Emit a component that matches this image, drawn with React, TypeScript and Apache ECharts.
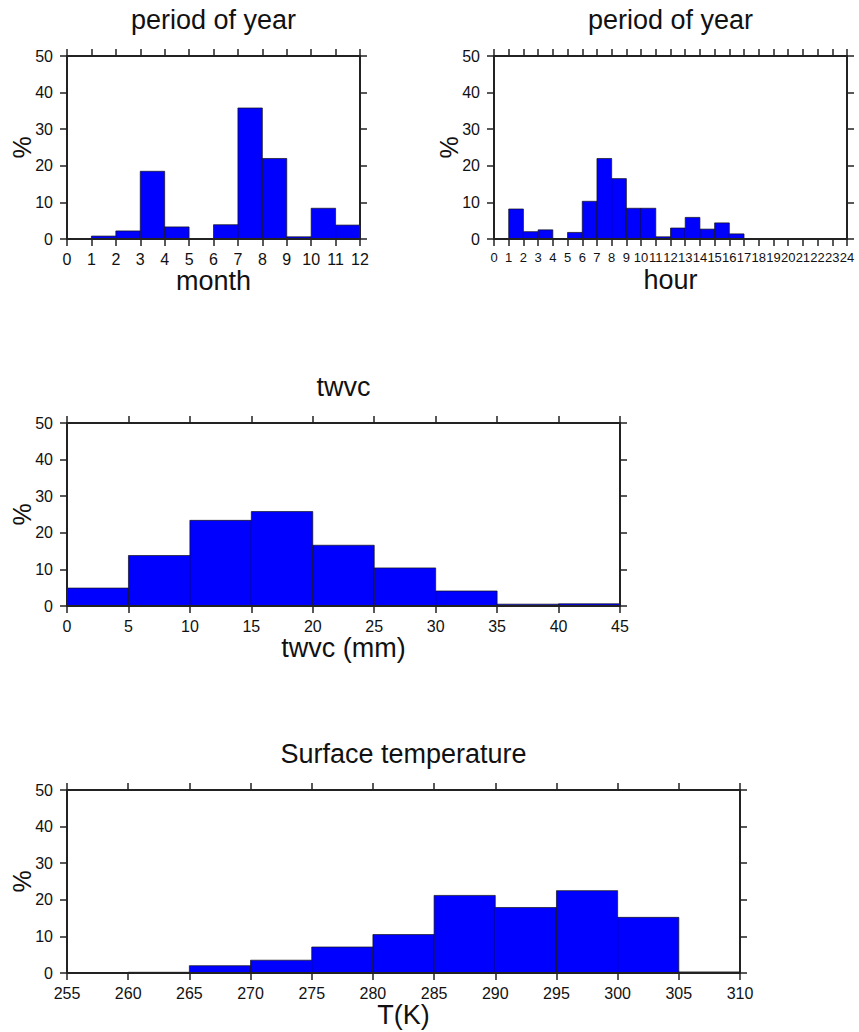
import React, { useEffect, useRef } from "react";
import * as echarts from "echarts";

// ---- data (percent per bin) ----
const monthBinStart = [0, 1, 2, 3, 4, 5, 6, 7, 8, 9, 10, 11];
const monthPct = [0, 0.8, 2.2, 18.5, 3.3, 0, 3.9, 35.8, 22.0, 0.6, 8.4, 3.8];

const hourBinStart = [0, 1, 2, 3, 4, 5, 6, 7, 8, 9, 10, 11, 12, 13, 14, 15, 16, 17, 18, 19, 20, 21, 22, 23];
const hourPct = [0, 8.2, 2.0, 2.5, 0, 1.8, 10.3, 22.0, 16.5, 8.4, 8.4, 0.6, 3.0, 5.9, 2.7, 4.4, 1.4, 0, 0, 0, 0, 0, 0, 0];

const twvcBinStart = [0, 5, 10, 15, 20, 25, 30, 35, 40];
const twvcPct = [4.9, 13.8, 23.4, 25.8, 16.6, 10.4, 4.1, 0.5, 0.6];

const tempBinStart = [255, 260, 265, 270, 275, 280, 285, 290, 295, 300, 305];
const tempPct = [0.1, 0.2, 2.0, 3.5, 7.1, 10.5, 21.2, 17.9, 22.5, 15.2, 0.3];

const FONT = "Liberation Sans";

type Panel = {
  title: string;
  xName: string;
  starts: number[];
  values: number[];
  width: number;
  min: number;
  max: number;
  interval: number;
  labelSize: number;
  grid: { left: number; top: number; width: number; height: number };
};

const panels: Panel[] = [
  { title: "period of year", xName: "month", starts: monthBinStart, values: monthPct, width: 1, min: 0, max: 12, interval: 1, labelSize: 16, grid: { left: 67, top: 56, width: 293, height: 183 } },
  { title: "period of year", xName: "hour", starts: hourBinStart, values: hourPct, width: 1, min: 0, max: 24, interval: 1, labelSize: 13, grid: { left: 494, top: 56, width: 353, height: 183 } },
  { title: "twvc", xName: "twvc (mm)", starts: twvcBinStart, values: twvcPct, width: 5, min: 0, max: 45, interval: 5, labelSize: 16, grid: { left: 67, top: 423, width: 553, height: 183 } },
  { title: "Surface temperature", xName: "T(K)", starts: tempBinStart, values: tempPct, width: 5, min: 255, max: 310, interval: 5, labelSize: 16, grid: { left: 67, top: 790, width: 673, height: 183 } },
];

export default function App() {
  const ref = useRef<HTMLDivElement>(null);
  useEffect(() => {
    if (!ref.current) return;
    const chart = echarts.init(ref.current, undefined, { renderer: "svg" });
    const axisLine = { show: true, onZero: false, lineStyle: { color: "#222", width: 2 } };
    const tick = { show: true, inside: false, length: 7, lineStyle: { color: "#222", width: 1.5 } };
    const label = { show: true, margin: 14, fontFamily: FONT, fontSize: 16, color: "#111", hideOverlap: false };
    const grids: any[] = [];
    const xAxes: any[] = [];
    const yAxes: any[] = [];
    const series: any[] = [];
    const graphics: any[] = [];
    panels.forEach((p, i) => {
      grids.push({ ...p.grid, containLabel: false, outerBoundsMode: "none" });
      xAxes.push({
        type: "value", gridIndex: i, position: "bottom", min: p.min, max: p.max, interval: p.interval, z: 5,
        axisLine, axisTick: tick, splitLine: { show: false },
        axisLabel: { ...label, margin: 12, fontSize: p.labelSize, showMinLabel: true, showMaxLabel: true },
        name: p.xName, nameLocation: "middle", nameGap: 27,
        nameTextStyle: { fontFamily: FONT, fontSize: 27, color: "#111" },
      });
      xAxes.push({
        type: "value", gridIndex: i, position: "top", min: p.min, max: p.max, interval: p.interval, z: 5,
        axisLine, axisTick: tick, splitLine: { show: false }, axisLabel: { show: false },
      });
      yAxes.push({
        type: "value", gridIndex: i, position: "left", min: 0, max: 50, interval: 10, z: 5,
        axisLine, axisTick: tick, splitLine: { show: false },
        axisLabel: label,
        name: "%", nameLocation: "middle", nameGap: 33, nameRotate: 90, nameMoveOverlap: false,
        nameTextStyle: { fontFamily: FONT, fontSize: 25, color: "#111" },
      });
      yAxes.push({
        type: "value", gridIndex: i, position: "right", min: 0, max: 50, interval: 10, z: 5,
        axisLine, axisTick: tick, splitLine: { show: false }, axisLabel: { show: false },
      });
      series.push({
        type: "custom",
        xAxisIndex: i * 2,
        yAxisIndex: i * 2,
        z: 2,
        encode: { x: [0, 1], y: 2 },
        data: p.starts.map((s, k) => [s, s + p.width, p.values[k]]),
        renderItem: (params: any, api: any) => {
          const v = api.value(2);
          if (!v) return null;
          const a = api.coord([api.value(0), v]);
          const b = api.coord([api.value(1), 0]);
          return {
            type: "rect",
            shape: { x: a[0], y: a[1], width: b[0] - a[0], height: b[1] - a[1] },
            style: { fill: "#0000ff", stroke: "#111", lineWidth: 0.7 },
          };
        },
      });
      graphics.push({
        type: "text",
        x: p.grid.left + p.grid.width / 2,
        y: p.grid.top - 36,
        style: { text: p.title, fontFamily: FONT, fontSize: 27, fill: "#111", textAlign: "center", textVerticalAlign: "middle" },
      });
    });
    chart.setOption({
      animation: false,
      backgroundColor: "#ffffff",
      grid: grids,
      xAxis: xAxes,
      yAxis: yAxes,
      series,
      graphic: graphics,
    });
    return () => chart.dispose();
  }, []);
  return <div ref={ref} style={{ position: "absolute", left: 0, top: 0, width: 859, height: 1032 }} />;
}
